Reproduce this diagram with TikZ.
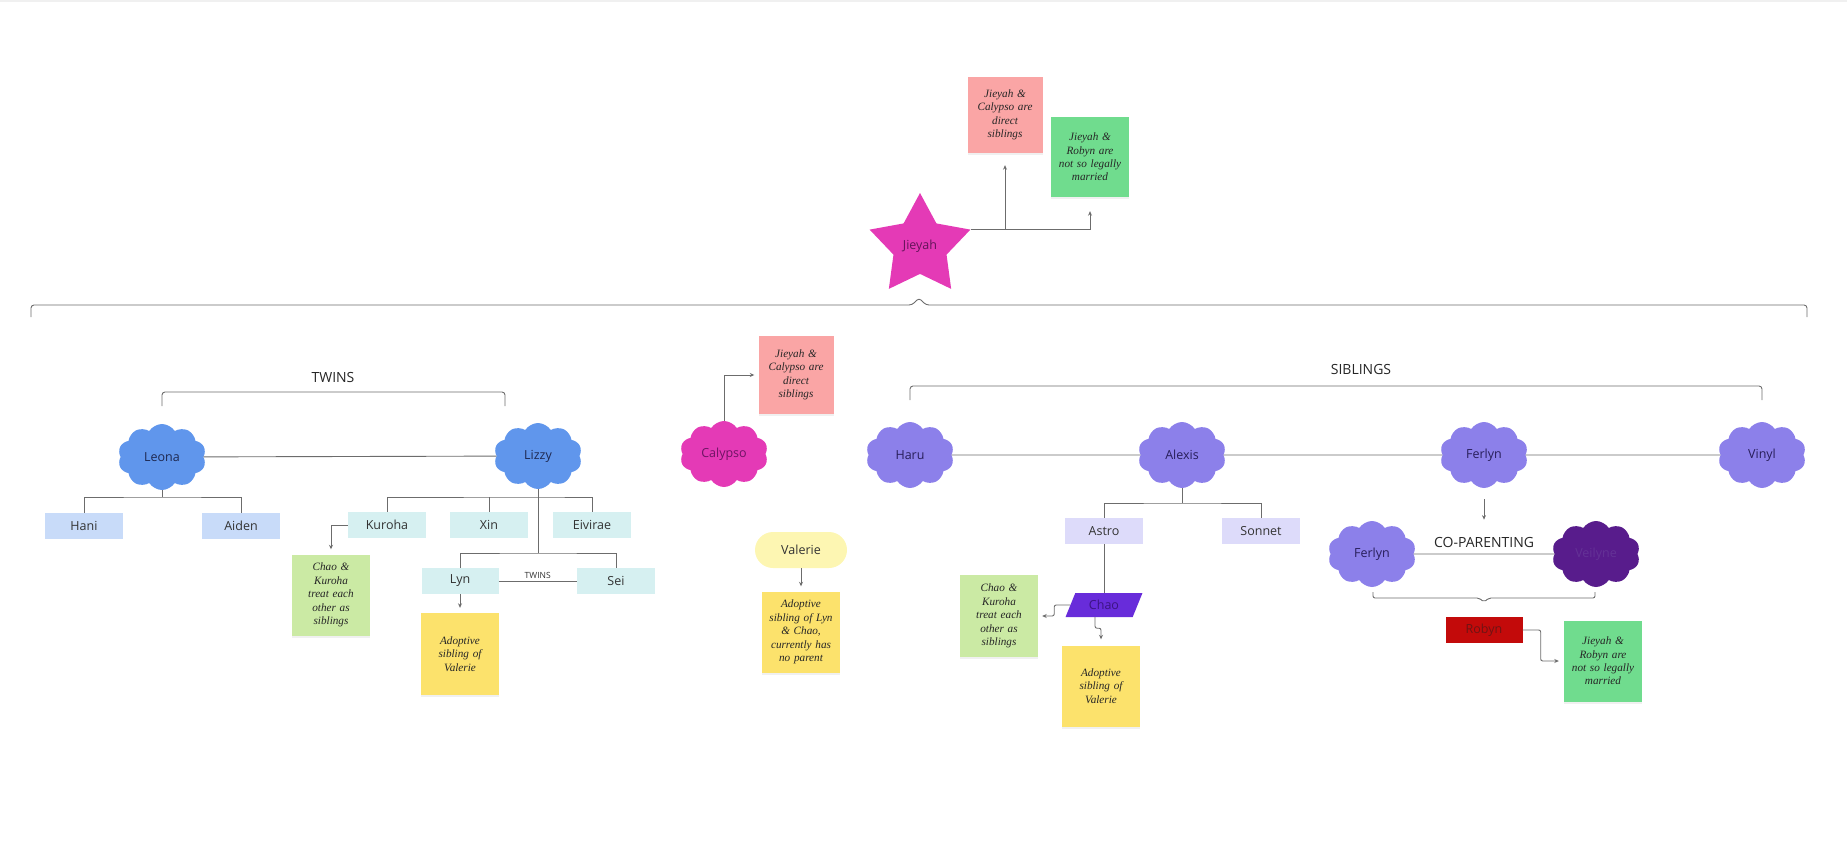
\documentclass[tikz,border=0pt]{standalone}
\usepackage{fontspec}
\setmainfont{Open Sans}
\newfontfamily\hand{Liberation Serif}
\usepackage{tikz}
\usepackage{xcolor}
\usetikzlibrary{shapes.geometric,shapes.symbols,arrows.meta,shadows}

\definecolor{starpink}{RGB}{228,58,182}
\definecolor{leafblue}{RGB}{96,150,236}
\definecolor{lilac}{RGB}{140,128,234}
\definecolor{plum}{RGB}{88,28,140}
\definecolor{boxblue}{RGB}{200,219,249}
\definecolor{boxcyan}{RGB}{214,240,241}
\definecolor{boxlav}{RGB}{221,219,250}
\definecolor{notepink}{RGB}{250,165,165}
\definecolor{notegreen}{RGB}{112,220,142}
\definecolor{notelime}{RGB}{203,234,164}
\definecolor{noteyellow}{RGB}{252,226,108}
\definecolor{pale}{RGB}{253,246,178}
\definecolor{wire}{RGB}{108,108,108}

\begin{document}
\begin{tikzpicture}[x=1pt,y=-1pt,
    wire/.style={draw=wire,line width=0.9pt},
    link/.style={wire,-{Stealth[length=4.5pt,width=4pt]}},
    puff/.style={cloud,cloud puffs=10,cloud puff arc=115,aspect=1.35,
        minimum width=88pt,minimum height=66pt,inner sep=0pt,
        font=\fontsize{12.5}{14}\selectfont},
    kid/.style={minimum width=78pt,minimum height=26pt,inner sep=0pt,
        text=black!80,font=\fontsize{12.5}{14}\selectfont},
    note/.style={minimum width=78pt,minimum height=81pt,inner sep=0pt,
        text width=74pt,align=center,text=black!85,
        font=\hand\itshape\fontsize{11.2}{13.4}\selectfont,
        drop shadow={opacity=0.12,shadow xshift=0pt,shadow yshift=-2pt}},
    tag/.style={inner sep=0pt,text=black!85,font=\fontsize{14}{16}\selectfont}]
    \useasboundingbox (0,0) rectangle (1847,845);
    \fill[black!6] (0,0) rectangle (1847,2);

    % top of the tree
    \node[star,star points=5,star point ratio=1.9,minimum size=106pt,inner sep=0pt,
        fill=starpink,text={rgb,255:red,100;green,20;blue,90},
        font=\fontsize{12.5}{14}\selectfont] (jieyah) at (920,246) {Jieyah};
    \node[note,fill=notepink,minimum width=75pt,minimum height=76pt] (pinkA) at (1005,115)
        {Jieyah \&\\ Calypso are\\ direct\\ siblings};
    \node[note,fill=notegreen,minimum height=80pt] (greenA) at (1090,157)
        {Jieyah \&\\ Robyn are\\ not so legally\\ married};
    \draw[link,shorten >=12pt] (jieyah.outer point 5) -| (pinkA);
    \draw[link,shorten >=14pt] (jieyah.outer point 5) -| (greenA);

    \draw[wire,rounded corners=3pt] (31,317) -- (31,305) -- (912,305) -- (919,298)
        -- (926,305) -- (1807,305) -- (1807,317);

    % left branch
    \node[tag] (twinsA) at (333,377) {TWINS};
    \draw[wire,rounded corners=3pt] (162,406) -- (162,392) -- (505,392) -- (505,406);
    \node[puff,fill=leafblue,text={rgb,255:red,30;green,40;blue,80}] (leona) at (162,457) {Leona};
    \node[puff,fill=leafblue,text={rgb,255:red,30;green,40;blue,80}] (lizzy) at (538,456) {Lizzy};
    \draw[wire] (leona) -- (lizzy);

    \node[kid,fill=boxblue] (hani) at (84,526) {Hani};
    \node[kid,fill=boxblue] (aiden) at (241,526) {Aiden};
    \coordinate (leonaknot) at (162,497);
    \draw[wire] (leona) -- (leonaknot);
    \draw[wire] (hani) |- (leonaknot) -| (aiden);

    \node[kid,fill=boxcyan] (kuroha) at (387,525) {Kuroha};
    \node[kid,fill=boxcyan] (xin) at (489,525) {Xin};
    \node[kid,fill=boxcyan] (eivirae) at (592,525) {Eivirae};
    \coordinate (lizzyknot) at (538,497);
    \draw[wire] (kuroha) |- (lizzyknot) -| (eivirae);
    \draw[wire] (xin) -- (xin |- lizzyknot);

    \node[kid,fill=boxcyan,minimum width=77pt] (lyn) at (460,581) {Lyn};
    \node[kid,fill=boxcyan] (sei) at (616,581) {Sei};
    \coordinate (twinsknot) at (538,553);
    \draw[wire] (lizzy) -- (twinsknot);
    \draw[wire] (lyn) |- (twinsknot) -| (sei);
    \draw[wire] (lyn) -- node[above,inner sep=2pt,text=black!80,font=\fontsize{8.5}{10}\selectfont] {TWINS} (sei);

    \node[note,fill=notelime] (limeA) at (331,595)
        {Chao \&\\ Kuroha\\ treat each\\ other as\\ siblings};
    \draw[link,shorten >=5pt] (kuroha.west) -| (limeA);
    \node[note,fill=noteyellow,minimum height=82pt] (yellowA) at (460,654)
        {Adoptive\\ sibling of\\ Valerie};
    \draw[link,shorten >=5pt] (lyn) -- (yellowA);

    % middle
    \node[puff,fill=starpink,text={rgb,255:red,110;green,20;blue,100}] (calypso) at (724,454) {Calypso};
    \node[note,fill=notepink,minimum width=75pt,minimum height=78pt] (pinkB) at (796,375)
        {Jieyah \&\\ Calypso are\\ direct\\ siblings};
    \draw[link,shorten >=4pt] (calypso) |- (pinkB);
    \node[rounded corners=18pt,fill=pale,minimum width=92pt,minimum height=36pt,inner sep=0pt,
        text=black!80,font=\fontsize{12.5}{14}\selectfont] (valerie) at (801,550) {Valerie};
    \node[note,fill=noteyellow] (yellowB) at (801,632)
        {Adoptive\\ sibling of Lyn\\ \& Chao,\\ currently has\\ no parent};
    \draw[link,shorten >=5pt] (valerie) -- (yellowB);

    % right branch
    \node[tag] (siblings) at (1361,369) {SIBLINGS};
    \draw[wire,rounded corners=3pt] (910,400) -- (910,386) -- (1762,386) -- (1762,400);
    \node[puff,fill=lilac,text={rgb,255:red,40;green,30;blue,90}] (haru) at (910,455) {Haru};
    \node[puff,fill=lilac,text={rgb,255:red,40;green,30;blue,90}] (alexis) at (1182,455) {Alexis};
    \node[puff,fill=lilac,text={rgb,255:red,40;green,30;blue,90}] (ferlyn) at (1484,455) {Ferlyn};
    \node[puff,fill=lilac,text={rgb,255:red,40;green,30;blue,90}] (vinyl) at (1762,455) {Vinyl};
    \draw[wire] (haru) -- (alexis);
    \draw[wire] (alexis) -- (ferlyn);
    \draw[wire] (ferlyn) -- (vinyl);

    \node[kid,fill=boxlav] (astro) at (1104,531) {Astro};
    \node[kid,fill=boxlav] (sonnet) at (1261,531) {Sonnet};
    \coordinate (alexisknot) at (1182,503);
    \draw[wire] (alexis) -- (alexisknot);
    \draw[wire] (astro) |- (alexisknot) -| (sonnet);

    \node[trapezium,trapezium left angle=62,trapezium right angle=118,trapezium stretches=true,
        minimum width=77pt,minimum height=24pt,inner sep=0pt,fill={rgb,255:red,104;green,44;blue,218},
        text={rgb,255:red,60;green,20;blue,130},font=\fontsize{12.5}{14}\selectfont] (chao) at (1104,605) {Chao};
    \draw[wire] (astro) -- (chao);
    \node[note,fill=notelime,minimum height=82pt] (limeB) at (999,616)
        {Chao \&\\ Kuroha\\ treat each\\ other as\\ siblings};
    \draw[link,rounded corners=2pt,shorten >=4pt] (chao.west) -- ++(-16,0) |- (limeB);
    \node[note,fill=noteyellow] (yellowC) at (1101,686)
        {Adoptive\\ sibling of\\ Valerie};
    \draw[link,rounded corners=2pt,shorten >=6pt] ([xshift=-9pt]chao.south) -- ++(0,11) -| (yellowC);

    \node[tag] (coparent) at (1484,542) {CO-PARENTING};
    \draw[link,shorten <=11pt,shorten >=17pt] (ferlyn) -- (coparent);
    \node[puff,fill=lilac,text={rgb,255:red,40;green,30;blue,90}] (ferlynB) at (1372,554) {Ferlyn};
    \node[puff,fill=plum,text={rgb,255:red,100;green,50;blue,150}] (veilyne) at (1596,554) {Veilyne};
    \draw[wire] (ferlynB) -- (veilyne);
    \draw[wire,rounded corners=2pt] (1373,592) -- (1373,598) -- (1479,598) -- (1484,602)
        -- (1489,598) -- (1595,598) -- (1595,592);

    \node[kid,fill={rgb,255:red,195;green,10;blue,10},text={rgb,255:red,110;green,20;blue,20},
        minimum width=77pt] (robyn) at (1484,630) {Robyn};
    \node[note,fill=notegreen] (greenB) at (1603,661)
        {Jieyah \&\\ Robyn are\\ not so legally\\ married};
    \draw[link,rounded corners=2pt,shorten >=5pt] (robyn.east) -- ++(18,0) |- (greenB);
\end{tikzpicture}
\end{document}
